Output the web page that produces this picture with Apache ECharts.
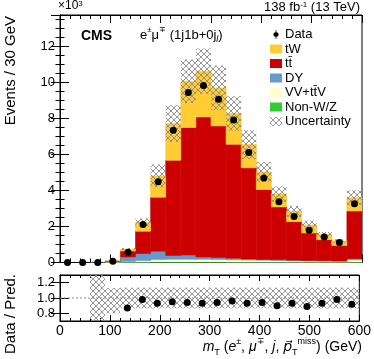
<!DOCTYPE html>
<html>
<head>
<meta charset="utf-8">
<script src="https://cdn.jsdelivr.net/npm/echarts@6/dist/echarts.min.js"></script>
<style>
  html, body { margin: 0; padding: 0; background: #fff; }
  #chart { width: 374px; height: 359px; }
</style>
</head>
<body>
<div id="chart"></div>
<script>
// bin edges in GeV (30 GeV bins)
const binEdges = [0, 30, 60, 90, 120, 150, 180, 210, 240, 270, 300, 330, 360, 390, 420, 450, 480, 510, 540, 570, 600];

// events in units of 10^3
const dataCounts = [0, 0, 0, 0.07, 0.57, 2.11, 4.48, 7.35, 9.44, 9.83, 9.07, 7.92, 6.11, 4.70, 3.37, 2.55, 1.79, 1.41, 1.11, 3.26];
const nonWZ = [0, 0, 0, 0.005, 0.01, 0.02, 0.03, 0.03, 0.03, 0.03, 0.03, 0.02, 0.02, 0.02, 0.02, 0.01, 0.01, 0.01, 0.01, 0.02];
const vvttv = [0, 0, 0, 0.01, 0.04, 0.09, 0.13, 0.15, 0.15, 0.15, 0.14, 0.13, 0.12, 0.11, 0.10, 0.09, 0.08, 0.07, 0.06, 0.15];
const dy = [0, 0, 0.01, 0.03, 0.26, 0.39, 0.47, 0.21, 0.24, 0.13, 0.11, 0.09, 0.06, 0.04, 0.03, 0.03, 0.02, 0.02, 0.02, 0.04];
const ttbar = [0, 0, 0, 0.04, 0.33, 1.24, 3.00, 5.29, 7.08, 7.78, 7.31, 6.33, 5.06, 3.88, 2.94, 2.14, 1.53, 1.17, 0.85, 2.65];
const tw = [0, 0, 0, 0.01, 0.10, 0.48, 1.18, 2.04, 2.57, 2.54, 2.11, 1.71, 1.29, 0.98, 0.71, 0.57, 0.45, 0.28, 0.26, 0.74];
const mcUnc = [0, 0, 0, 0.02, 0.06, 0.22, 0.63, 1.02, 1.21, 1.26, 1.24, 0.96, 0.80, 0.56, 0.42, 0.31, 0.24, 0.15, 0.09, 0.42];

// ratio panel
const ratioVals = [null, null, null, null, 0.87, 0.98, 0.93, 0.95, 0.94, 0.93, 0.94, 0.96, 0.93, 0.94, 0.90, 0.93, 0.89, 0.93, 0.98, 0.92];
const ratioUncHi = [null, null, 1.5, 1.13, 1.135, 1.135, 1.135, 1.135, 1.135, 1.135, 1.135, 1.135, 1.135, 1.135, 1.135, 1.135, 1.135, 1.135, 1.135, 1.135];
const ratioUncLo = [null, null, 0.5, 0.80, 0.865, 0.865, 0.865, 0.865, 0.865, 0.865, 0.865, 0.865, 0.865, 0.865, 0.865, 0.865, 0.865, 0.865, 0.865, 0.865];

const FONT = 'Liberation Sans, Arial, Helvetica, sans-serif';

// cross hatch like ROOT style 3144
const hatch = document.createElement('canvas');
hatch.width = 6; hatch.height = 6;
(function () {
  const c = hatch.getContext('2d');
  c.strokeStyle = '#8a8a8a';
  c.lineWidth = 0.9;
  c.beginPath();
  c.moveTo(-1, -1); c.lineTo(7, 7);
  c.moveTo(-1, 7); c.lineTo(7, -1);
  c.stroke();
})();
const hatchFill = { image: hatch, repeat: 'repeat' };

// stacked boxes: [x0, x1, y0, y1]
const stackOrder = [
  { name: 'Non-W/Z', vals: nonWZ, color: '#33cc33' },
  { name: 'VV+tt\u0304V', vals: vvttv, color: '#ffffcc' },
  { name: 'DY', vals: dy, color: '#6699cc' },
  { name: 'tt\u0304', vals: ttbar, color: '#cc0000' },
  { name: 'tW', vals: tw, color: '#ffcc33' }
];
const base = dataCounts.map(() => 0);
const stackSeries = stackOrder.map(s => {
  const boxes = [];
  s.vals.forEach((v, i) => {
    if (v > 0) boxes.push([binEdges[i], binEdges[i + 1], base[i], base[i] + v]);
    base[i] += v;
  });
  return { name: s.name, color: s.color, boxes };
});
const totals = base.slice();

const uncBoxes = [];
mcUnc.forEach((u, i) => {
  if (u > 0) uncBoxes.push([binEdges[i], binEdges[i + 1], Math.max(0, totals[i] - u), totals[i] + u]);
});
const ratioBoxes = [];
ratioUncHi.forEach((hi, i) => {
  if (hi != null) ratioBoxes.push([binEdges[i], binEdges[i + 1], ratioUncLo[i], hi]);
});

const centers = binEdges.slice(0, -1).map((e, i) => (e + binEdges[i + 1]) / 2);
const dataPoints = dataCounts.map((v, i) => [centers[i], v]);
const ratioPoints = ratioVals.map((v, i) => [centers[i], v]).filter(p => p[1] != null);

function makeRenderer(solid) {
  return function (params, api) {
    const p0 = api.coord([api.value(0), api.value(3)]);
    const p1 = api.coord([api.value(1), api.value(2)]);
    const col = api.visual('color');
    return {
      type: 'rect',
      shape: { x: p0[0], y: p0[1], width: p1[0] - p0[0], height: p1[1] - p0[1] },
      // a thin same-colour edge closes the hairline gaps between bins
      style: solid ? { fill: col, stroke: col, lineWidth: 0.6 } : { fill: col }
    };
  };
}

function boxSeries(name, boxes, color, axisIdx, solid) {
  return {
    name: name,
    type: 'custom',
    xAxisIndex: axisIdx,
    yAxisIndex: axisIdx,
    renderItem: makeRenderer(solid),
    itemStyle: { color: color },
    encode: { x: [0, 1], y: [2, 3] },
    clip: true,
    silent: true,
    data: boxes
  };
}

const tickStyle = { lineStyle: { color: '#000', width: 1 } };
function xAx(grid, pos, labels, len) {
  return {
    type: 'value', gridIndex: grid, position: pos, min: 0, max: 600, interval: 100,
    axisLine: { onZero: false, lineStyle: { color: '#000' } },
    axisTick: { inside: true, length: len, ...tickStyle },
    minorTick: { show: true, splitNumber: 5, length: len / 2, ...tickStyle },
    splitLine: { show: false },
    axisLabel: { show: labels, color: '#000', fontSize: 14, fontFamily: FONT, margin: 3 }
  };
}

const chart = echarts.init(document.getElementById('chart'));
const option = {
  animation: false,
  backgroundColor: '#fff',
  grid: [
    { left: 60, right: 12, top: 15, height: 247.5, show: true, borderColor: '#000', borderWidth: 1 },
    { left: 60, right: 12, top: 275, height: 46, show: true, borderColor: '#000', borderWidth: 1 }
  ],
  xAxis: [
    xAx(0, 'bottom', false, 8),
    xAx(1, 'bottom', true, 6),
    xAx(0, 'top', false, 8),
    xAx(1, 'top', false, 6)
  ],
  yAxis: [
    {
      type: 'value', gridIndex: 0, position: 'left', min: 0, max: 13.75, interval: 2,
      axisLine: { show: true, lineStyle: { color: '#000' } },
      axisTick: { inside: true, length: 9, ...tickStyle },
      minorTick: { show: true, splitNumber: 4, length: 4.5, ...tickStyle },
      splitLine: { show: false },
      axisLabel: { color: '#000', fontSize: 13, fontFamily: FONT, margin: 5, showMaxLabel: false }
    },
    {
      type: 'value', gridIndex: 1, position: 'left', min: 0.7, max: 1.3,
      axisLine: { show: true, lineStyle: { color: '#000' } },
      axisTick: { inside: true, length: 9, customValues: [0.8, 1.0, 1.2], ...tickStyle },
      splitLine: { show: false },
      axisLabel: { color: '#000', fontSize: 13, fontFamily: FONT, margin: 5,
        customValues: [0.8, 1.0, 1.2], formatter: v => v.toFixed(1) }
    },
    {
      type: 'value', gridIndex: 0, position: 'right', min: 0, max: 13.75, interval: 2,
      axisLine: { show: true, lineStyle: { color: '#000' } },
      axisTick: { inside: true, length: 9, ...tickStyle },
      minorTick: { show: true, splitNumber: 4, length: 4.5, ...tickStyle },
      splitLine: { show: false },
      axisLabel: { show: false }
    },
    {
      type: 'value', gridIndex: 1, position: 'right', min: 0.7, max: 1.3,
      axisLine: { show: true, lineStyle: { color: '#000' } },
      axisTick: { inside: true, length: 9, customValues: [0.8, 1.0, 1.2], ...tickStyle },
      splitLine: { show: false },
      axisLabel: { show: false, customValues: [0.8, 1.0, 1.2] }
    }
  ],
  legend: {
    orient: 'vertical',
    left: 265,
    top: 23,
    itemWidth: 12,
    itemHeight: 9,
    itemGap: 1.5,
    icon: 'rect',
    textStyle: { color: '#000', fontSize: 13, fontFamily: FONT, padding: [0, 0, 0, -2] },
    data: [
      { name: 'Data', icon: 'path://M4.5,0 L5.5,0 L5.5,3 A3,3 0 0 1 5.5,9 L5.5,12 L4.5,12 L4.5,9 A3,3 0 0 1 4.5,3 Z' },
      'tW', 'tt\u0304', 'DY', 'VV+tt\u0304V', 'Non-W/Z', 'Uncertainty'
    ]
  },
  graphic: [
    { type: 'text', left: 58, top: 0, style: { text: '\u00d710{s|3}', font: '12px ' + FONT, fill: '#000',
        rich: { s: { fontSize: 8, verticalAlign: 'top', fontFamily: FONT } } } },
    { type: 'text', right: 14, top: 1, style: { text: '138 fb{s|-1} (13 TeV)', font: '13px ' + FONT, fill: '#000',
        rich: { s: { fontSize: 8, verticalAlign: 'top', fontFamily: FONT } } } },
    { type: 'text', left: 81, top: 29, style: { text: 'CMS', font: 'bold 14px ' + FONT, fill: '#000' } },
    { type: 'text', left: 140, top: 26, style: {
        text: 'e{p|\u00b1}\u03bc{p|\u2213} (1j1b+0j{s|l})', font: '13px ' + FONT, fill: '#000', lineHeight: 18,
        rich: {
          p: { fontSize: 8, verticalAlign: 'top', fontFamily: FONT, lineHeight: 18 },
          s: { fontSize: 9, verticalAlign: 'bottom', fontStyle: 'italic', fontFamily: FONT, lineHeight: 18 }
        } } },
    { type: 'text', x: 11, y: 16, rotation: Math.PI / 2,
      style: { text: 'Events / 30 GeV', font: '15px ' + FONT, fill: '#000', align: 'right', verticalAlign: 'middle' } },
    { type: 'text', x: 11, y: 274, rotation: Math.PI / 2,
      style: { text: 'Data / Pred.', font: '15px ' + FONT, fill: '#000', align: 'right', verticalAlign: 'middle' } },
    { type: 'text', right: 12, top: 337, style: {
        text: '{i|m}{s|T} ({i|e}{p|\u00b1}, {i|\u03bc}{p|\u2213}, {i|j}, {v|p\u20d7}{s|T}{p|miss}) (GeV)',
        font: '14px ' + FONT, fill: '#000', lineHeight: 20,
        rich: {
          i: { fontStyle: 'italic', fontSize: 14, fontFamily: FONT, lineHeight: 20 },
          v: { fontStyle: 'italic', fontSize: 14, fontFamily: 'DejaVu Sans', lineHeight: 20 },
          s: { fontSize: 9, verticalAlign: 'bottom', fontFamily: FONT, lineHeight: 20 },
          p: { fontSize: 9, verticalAlign: 'top', fontFamily: FONT, lineHeight: 20 }
        } } }
  ],
  series: [
    ...stackSeries.map(s => boxSeries(s.name, s.boxes, s.color, 0, true)),
    boxSeries('Uncertainty', uncBoxes, hatchFill, 0, false),
    {
      name: 'Data', type: 'scatter', xAxisIndex: 0, yAxisIndex: 0,
      symbol: 'circle', symbolSize: 7, itemStyle: { color: '#000', opacity: 1 },
      data: dataPoints, z: 5
    },
    {
      name: 'unity', type: 'line', xAxisIndex: 1, yAxisIndex: 1, symbol: 'none', silent: true,
      lineStyle: { color: '#888', width: 1, type: [2, 2] },
      data: [[0, 1], [600, 1]]
    },
    boxSeries('ratioUnc', ratioBoxes, hatchFill, 1, false),
    {
      name: 'ratio', type: 'scatter', xAxisIndex: 1, yAxisIndex: 1,
      symbol: 'circle', symbolSize: 7, itemStyle: { color: '#000', opacity: 1 },
      data: ratioPoints, z: 5
    }
  ]
};
chart.setOption(option);
</script>
</body>
</html>
